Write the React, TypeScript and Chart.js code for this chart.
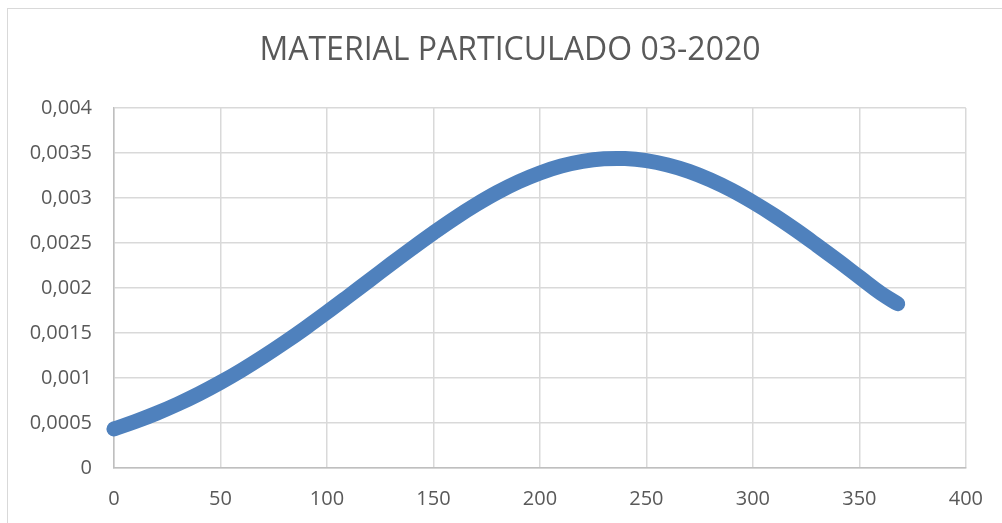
import React, { useEffect, useRef } from "react";
import { Chart, registerables } from "chart.js";

Chart.register(...registerables);

const TITLE = "MATERIAL PARTICULADO 03-2020";

// x values (sample positions)
const xValues = [
  0, 10, 20, 30, 40, 50, 60, 70, 80, 90, 100, 110, 120, 130, 140, 150, 160, 170, 180, 190,
  200, 210, 220, 230, 240, 250, 260, 270, 280, 290, 300, 310, 320, 330, 340, 350, 360, 368,
];

// y values
const yValues = [
  0.000434, 0.000516, 0.000608, 0.000711, 0.000825, 0.000951, 0.001088, 0.001236, 0.001393,
  0.001558, 0.00173, 0.001907, 0.002086, 0.002266, 0.002442, 0.002613, 0.002776, 0.002926,
  0.003062, 0.00318, 0.003278, 0.003355, 0.003407, 0.003435, 0.003438, 0.003415, 0.003367,
  0.003296, 0.003201, 0.003087, 0.002954, 0.002807, 0.002647, 0.002477, 0.002302, 0.002122,
  0.001943, 0.001825,
];

const yTickValues = [0, 0.0005, 0.001, 0.0015, 0.002, 0.0025, 0.003, 0.0035, 0.004];
const yTickLabels = ["0", "0,0005", "0,001", "0,0015", "0,002", "0,0025", "0,003", "0,0035", "0,004"];
const xTickLabels = ["0", "50", "100", "150", "200", "250", "300", "350", "400"];

const TEXT = "#595959";
const FONT = "'Open Sans', 'Noto Sans', sans-serif";

export default function App() {
  const ref = useRef<HTMLCanvasElement | null>(null);

  useEffect(() => {
    if (!ref.current) return;
    const points = xValues.map((x, i) => ({ x, y: yValues[i] }));

    const titlePlugin = {
      id: "customTitle",
      afterDraw(chart: any) {
        const ctx = chart.ctx;
        ctx.save();
        ctx.fillStyle = TEXT;
        ctx.font = `32px ${FONT}`;
        ctx.textAlign = "center";
        ctx.textBaseline = "middle";
        ctx.fillText(TITLE, 510, 51);
        ctx.restore();
      },
    };

    const chart = new Chart(ref.current, {
      type: "scatter",
      data: {
        datasets: [
          {
            data: points,
            showLine: true,
            borderColor: "#4f81bd",
            backgroundColor: "#4f81bd",
            borderWidth: 15,
            borderCapStyle: "round",
            borderJoinStyle: "round",
            pointRadius: 0,
            pointHoverRadius: 0,
            tension: 0.4,
            clip: false as any,
          } as any,
        ],
      },
      plugins: [titlePlugin],
      options: {
        animation: false,
        responsive: false,
        maintainAspectRatio: false,
        layout: { padding: { top: 108, right: 36, bottom: 0, left: 0 } },
        plugins: {
          legend: { display: false },
          title: { display: false },
          tooltip: { enabled: false },
        },
        scales: {
          x: {
            type: "linear",
            min: 0,
            max: 400,
            ticks: {
              stepSize: 50,
              color: TEXT,
              font: { family: FONT, size: 20 },
              padding: 19,
              callback: (v: any) => {
                const i = Math.round(Number(v) / 50);
                return xTickLabels[i] ?? "";
              },
            },
            grid: { color: "#d9d9d9", lineWidth: 1.5, drawTicks: false },
            border: { color: "#bfbfbf", width: 1.5 },
            afterFit: (s: any) => {
              s.height = 55;
            },
          },
          y: {
            type: "linear",
            min: 0,
            max: 0.004,
            afterBuildTicks: (s: any) => {
              s.ticks = yTickValues.map((value) => ({ value }));
            },
            ticks: {
              color: TEXT,
              font: { family: FONT, size: 20 },
              padding: 22,
              callback: (v: any) => {
                const i = yTickValues.findIndex((t) => Math.abs(t - Number(v)) < 1e-9);
                return i >= 0 ? yTickLabels[i] : "";
              },
            },
            grid: { color: "#d9d9d9", lineWidth: 1.5, drawTicks: false },
            border: { color: "#bfbfbf", width: 1.5 },
            afterFit: (s: any) => {
              s.width = 114;
            },
          },
        },
      },
    });
    return () => chart.destroy();
  }, []);

  return (
    <div
      style={{
        position: "fixed",
        left: 0,
        top: 0,
        width: 1002,
        height: 523,
        overflow: "hidden",
        background: "#ffffff",
      }}
    >
      <div
        style={{
          position: "absolute",
          left: 7,
          top: 8,
          width: 1100,
          height: 700,
          border: "1px solid #d9d9d9",
          boxSizing: "border-box",
        }}
      />
      <canvas
        ref={ref}
        width={1002}
        height={523}
        style={{ position: "absolute", left: 0, top: 0, width: 1002, height: 523 }}
      />
    </div>
  );
}
